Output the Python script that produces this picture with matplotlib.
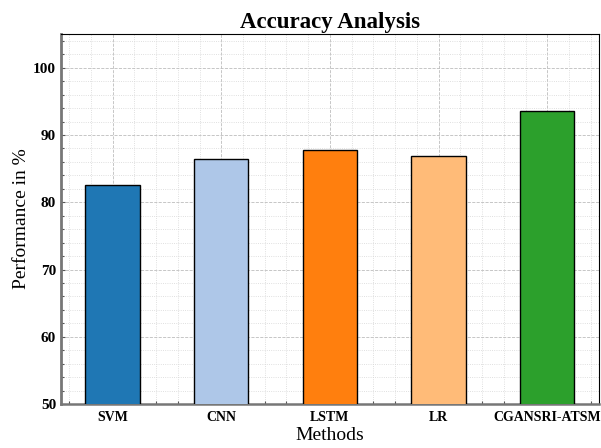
import matplotlib.pyplot as plt
from matplotlib.ticker import MultipleLocator

metodos = ["SVM", "CNN", "LSTM", "LR", "CGANSRI-ATSM"]
acuracia = [82.5, 86.5, 87.7, 86.9, 93.6]
cores = ["#1f77b4", "#aec7e8", "#ff7f0e", "#ffbb78", "#2ca02c"]

plt.rcParams["font.family"] = "Liberation Serif"

fig = plt.figure(figsize=(6.01, 4.48), dpi=100)
ax = fig.add_axes([0.1015, 0.098, 0.895, 0.826])

x = range(len(metodos))
ax.bar(x, acuracia, width=0.5, color=cores, edgecolor="black", linewidth=1.0, zorder=3)

ax.set_ylim(50, 105)
ax.set_xticks(list(x))
ax.set_xticklabels(metodos, fontsize=10, fontweight="bold")
ax.yaxis.set_major_locator(MultipleLocator(10))
ax.yaxis.set_minor_locator(MultipleLocator(2))
ax.xaxis.set_minor_locator(MultipleLocator(0.2))
for lbl in ax.get_yticklabels():
    lbl.set_fontweight("bold")
    lbl.set_fontsize(11)

ax.tick_params(which="both", direction="in", length=3, width=0.8, color="#555555")
ax.tick_params(which="minor", length=2)
ax.tick_params(axis="x", pad=5)

ax.grid(which="major", linestyle="--", color="#bdbdbd", linewidth=0.6, zorder=0)
ax.grid(which="minor", linestyle=":", color="#d5d5d5", linewidth=0.6, zorder=0)

ax.spines["left"].set_color("#777777")
ax.spines["left"].set_linewidth(2.0)
ax.spines["bottom"].set_color("#777777")
ax.spines["bottom"].set_linewidth(1.8)

ax.set_title("Accuracy Analysis", fontsize=16.5, fontweight="bold", pad=4)
ax.set_xlabel("Methods", fontsize=14, labelpad=2)
ax.set_ylabel("Performance in %", fontsize=14, labelpad=2)

fig.savefig("out.png", dpi=100)
